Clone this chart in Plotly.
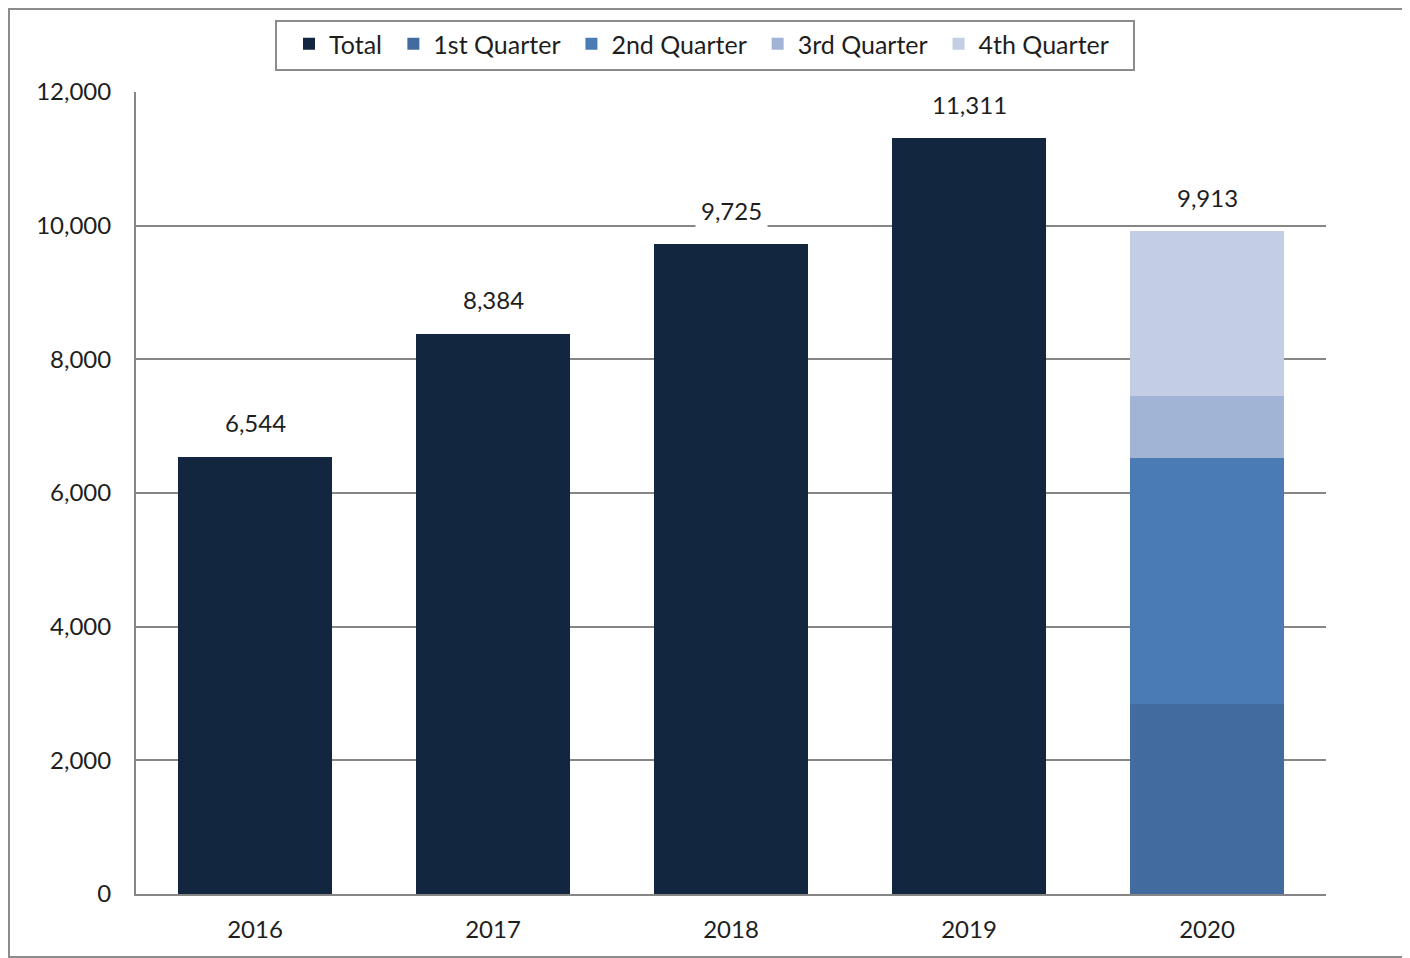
import plotly.graph_objects as go

years = ["2016", "2017", "2018", "2019", "2020"]
total_years = ["2016", "2017", "2018", "2019"]
total_values = [6544, 8384, 9725, 11311]
q_year = ["2020"]
q1 = [2843]
q2 = [3681]
q3 = [927]
q4 = [2462]
label_values = [6544, 8384, 9725, 11311, 9913]
y_ticks = [0, 2000, 4000, 6000, 8000, 10000, 12000]
y_tick_text = ["0", "2,000", "4,000", "6,000", "8,000", "10,000", "12,000"]

FONT = "Lato"
TXT = "#1e1e1e"
GRID = "#868686"
PAD = "\u00a0"

fig = go.Figure()
fig.add_bar(x=total_years, y=total_values, name="Total" + PAD, marker_color="#13263F", marker_line_width=0)
fig.add_bar(x=q_year, y=q1, name="1st Quarter" + PAD, marker_color="#426C9F", marker_line_width=0)
fig.add_bar(x=q_year, y=q2, name="2nd Quarter" + PAD, marker_color="#4A7BB5", marker_line_width=0)
fig.add_bar(x=q_year, y=q3, name="3rd Quarter" + PAD, marker_color="#A2B4D5", marker_line_width=0)
fig.add_bar(x=q_year, y=q4, name="4th Quarter", marker_color="#C3CDE3", marker_line_width=0)

for i, v in enumerate(label_values):
    fig.add_annotation(x=i, y=v, text=f"{v:,}", showarrow=False, yshift=34,
                       font=dict(family=FONT, size=24, color=TXT),
                       bgcolor="white", borderpad=5, xref="x", yref="y")

OFF = 8  # page body margin
W, H = 1402, 950
L = 136 - OFF
T = 92 - OFF
R = W - (1326 - OFF)
B = H - (894 - OFF)
pw, ph = W - L - R, H - T - B

def px(x):
    return (x - OFF - L) / pw

def py(y):
    return (H - B - (y - OFF)) / ph

# outer frame
fig.add_shape(type="rect", xref="paper", yref="paper",
              x0=(1 - L) / pw, x1=px(1405), y0=py(957), y1=(H - B - 1) / ph,
              line=dict(color="#8c8c8c", width=2), fillcolor="rgba(0,0,0,0)", layer="below")
# legend frame
fig.add_shape(type="rect", xref="paper", yref="paper",
              x0=px(276), x1=px(1134), y0=py(70), y1=py(21),
              line=dict(color="#8c8c8c", width=2), fillcolor="white", layer="below")

fig.update_layout(
    width=W, height=H,
    margin=dict(l=L, r=R, t=T, b=B, autoexpand=False),
    paper_bgcolor="white", plot_bgcolor="white",
    barmode="stack", bargap=0.357,
    font=dict(family=FONT, size=24, color=TXT),
    showlegend=True,
    legend=dict(orientation="h", x=px(289), xanchor="left", y=py(21), yanchor="top",
                borderwidth=0, bgcolor="rgba(0,0,0,0)",
                font=dict(family=FONT, size=25, color=TXT),
                traceorder="normal", itemwidth=30),
    xaxis=dict(type="category", categoryorder="array", categoryarray=years,
               showline=True, linecolor=GRID, linewidth=2, showgrid=False,
               ticks="", ticklabelstandoff=13, range=[-0.5, 4.5]),
    yaxis=dict(range=[0, 12000], tickvals=y_ticks, ticktext=y_tick_text,
               showgrid=True, gridcolor=GRID, gridwidth=2,
               showline=True, linecolor=GRID, linewidth=2,
               zeroline=False, ticks="", ticklabelstandoff=18),
)

fig.write_html("out.html")
